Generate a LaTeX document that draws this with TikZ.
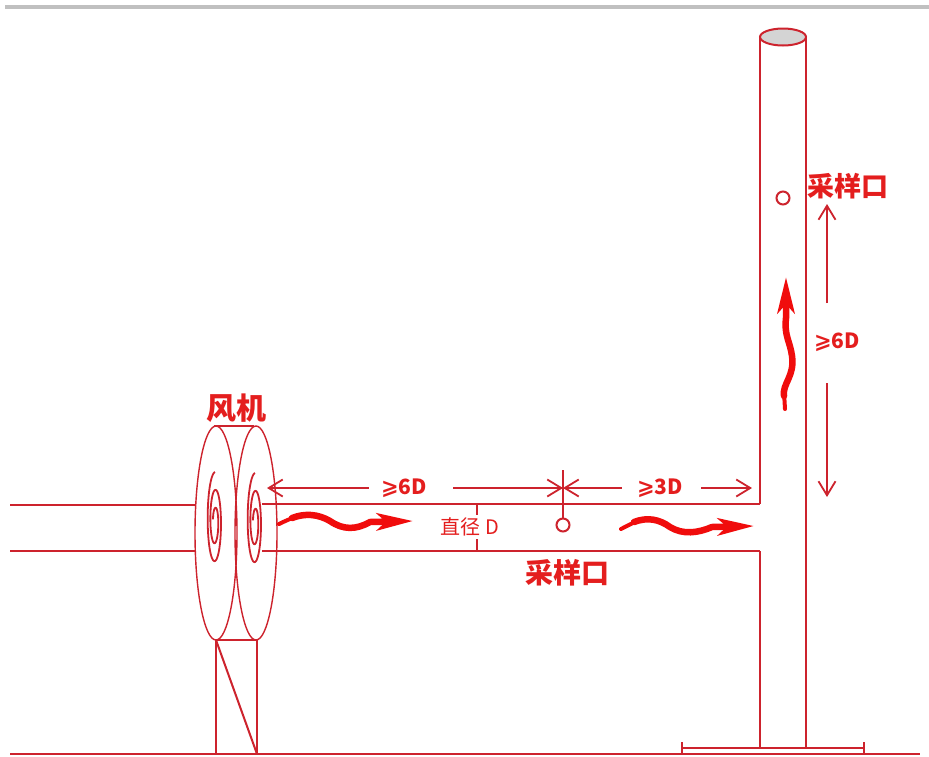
\documentclass[tikz,border=0pt]{standalone}
\usepackage{fontspec}
\usetikzlibrary{arrows.meta}
\newfontfamily\cjk{Noto Sans CJK SC}
\newfontfamily\symf{DejaVu Sans}
\definecolor{pipered}{RGB}{205,35,45}
\definecolor{textred}{RGB}{228,30,30}
\definecolor{flowred}{RGB}{240,12,12}
\definecolor{capgray}{RGB}{212,212,212}
\definecolor{bargray}{RGB}{192,192,192}
\newcommand{\gesym}{{\symf\bfseries ⩾}}

% spiral inside a fan disk: radii shrink as it winds inwards
\newcommand{\fanspiral}[2]{%
  \draw[spiralline] plot[smooth, domain=0:800, samples=161]
    ({#1 - (8 - 0.0075*\x)*sin(\x)}, {#2 - (49 - 0.05*\x)*cos(\x)});
}

\tikzset{
  wall/.style={draw=pipered, line width=2pt},
  fanline/.style={draw=pipered, line width=1.4pt},
  spiralline/.style={draw=pipered, line width=1.8pt},
  ground/.style={draw=pipered, line width=2.6pt},
  dim/.style={draw=pipered, line width=1.8pt,
    -{Straight Barb[length=14pt,width=17pt]}},
  dimlabel/.style={text=textred, inner sep=0pt,
    font=\cjk\bfseries\fontsize{21}{21}\selectfont},
  biglabel/.style={text=textred, inner sep=0pt,
    font=\cjk\bfseries\fontsize{28}{28}\selectfont},
  portring/.style={circle, draw=pipered, line width=2pt,
    minimum size=13pt, inner sep=0pt},
  flow/.style={draw=flowred, line width=6.5pt, line cap=round,
    -{Stealth[length=36pt,width=17pt,inset=9pt]}},
  flowtail/.style={draw=flowred, line width=4pt, line cap=round}
}

\begin{document}
\begin{tikzpicture}[x=1pt, y=-1pt]
  % canvas
  \fill[white] (0,0) rectangle (929,756);
  \useasboundingbox (0,0) rectangle (929,756);
  \fill[bargray] (5,4.5) rectangle (929,8.5);

  % ground and base plate
  \draw[ground] (10,754) -- (920,754);
  \draw[wall] (682,748) -- (864,748);
  \draw[wall] (682,742) -- (682,754);
  \draw[wall] (864,742) -- (864,754);

  % stack
  \draw[wall] (760,37) -- (760,504);
  \draw[wall] (760,551) -- (760,748);
  \draw[wall] (806,37) -- (806,748);
  \draw[wall, fill=capgray] (783,37) ellipse[x radius=23pt, y radius=8.5pt];

  % inlet pipe
  \draw[wall] (10,505) -- (197,505);
  \draw[wall] (10,551) -- (197,551);

  % outlet pipe
  \draw[wall] (262,504) -- (760,504);
  \draw[wall] (262,551) -- (760,551);

  % fan casing
  \draw[fanline, fill=white] (216,533) ellipse[x radius=21pt, y radius=107pt];
  \draw[fanline] (256,533) ellipse[x radius=21pt, y radius=107pt];
  \draw[fanline] (214,426) -- (254,426);
  \draw[wall] (216,640) -- (256,640);
  \fanspiral{215}{521}
  \fanspiral{255}{522}

  % fan stand
  \draw[wall] (216,640) -- (216,754);
  \draw[wall] (257,640) -- (257,754);
  \draw[wall] (216,640) -- (257,754);

  % labels
  \node[biglabel, font=\cjk\bfseries\fontsize{30}{30}\selectfont] (fanlabel) at (236,408) {风机};

  % sampling port on the duct
  \node[portring] (port1) at (563,525) {};
  \coordinate (tick1) at (563,470);
  \draw[wall] (tick1) -- (port1.north);
  \node[biglabel] (portlabel1) at (567,573) {采样口};

  % sampling port on the stack
  \node[portring] (port2) at (783,198) {};
  \node[biglabel, font=\cjk\bfseries\fontsize{27}{27}\selectfont] (portlabel2) at (848,186) {采样口};

  % duct diameter
  \coordinate (diamtop) at (477,504);
  \coordinate (diambot) at (477,551);
  \draw[wall] (diamtop) -- (diambot);
  \node[text=textred, fill=white, inner xsep=1pt, inner ysep=3pt,
        font=\cjk\fontsize{20}{20}\selectfont] (diamlabel) at (470,527) {直径 D};

  % horizontal dimensions
  \coordinate (dimL) at (267,488);
  \coordinate (dimM) at (563,488);
  \coordinate (dimR) at (752,488);
  \node[dimlabel] (six) at (404,488) {\gesym6D};
  \node[dimlabel] (three) at (660,488) {\gesym3D};
  \draw[dim] ([xshift=-12pt]six.west) -- (dimL);
  \draw[dim] ([xshift=26pt]six.east) -- (dimM);
  \draw[dim] ([xshift=-15pt]three.west) -- (dimM);
  \draw[dim] ([xshift=18pt]three.east) -- (dimR);

  % vertical dimension
  \coordinate (dimT) at (827,204);
  \coordinate (dimB) at (827,497);
  \node[dimlabel] (sixv) at (837,342) {\gesym6D};
  \draw[dim] (827,303) -- (dimT);
  \draw[dim] (827,383) -- (dimB);

  % gas flow: thin tail, thick body, broad head
  \coordinate (f1s) at (279,524);
  \coordinate (f1e) at (413,521);
  \draw[flowtail] (f1s) .. controls (285,521) and (292,518) .. (298,516);
  \draw[flow] (292,518) .. controls (305,513) and (318,514) .. (330,521)
     .. controls (343,530) and (356,530) .. (370,522) -- (f1e);
  \coordinate (f2s) at (621,529);
  \coordinate (f2e) at (754,526);
  \draw[flowtail] (f2s) .. controls (627,526) and (634,522) .. (640,520);
  \draw[flow] (634,522) .. controls (647,517) and (659,519) .. (670,527)
     .. controls (683,535) and (698,533) .. (712,527) -- (f2e);
  \coordinate (f3s) at (785,409);
  \coordinate (f3e) at (786,277);
  \draw[flowtail] (f3s) -- (784,392);
  \draw[flow] (784,396) .. controls (782,384) and (795,376) .. (792,356)
     .. controls (790,341) and (784,336) .. (786,318) -- (f3e);
\end{tikzpicture}
\end{document}
